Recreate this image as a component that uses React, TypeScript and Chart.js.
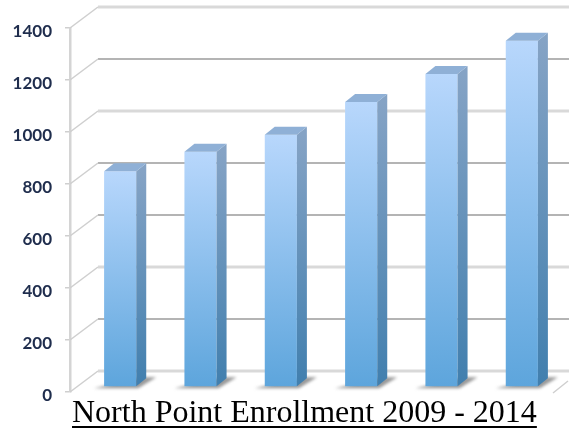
import React, { useEffect, useRef } from "react";
import { Chart, registerables } from "chart.js";

Chart.register(...registerables);

const years = ["2009", "2010", "2011", "2012", "2013", "2014"];
const enrollment = [830, 905, 970, 1096, 1204, 1332];
const titleText = "North Point Enrollment 2009 - 2014";
const lightGridValues = [1400, 1000, 400, 0];

const SHIFT_X = 10, SHIFT_Y = -5, SIDE_X = 10, SIDE_Y = -8;
const WALL_X = 28, WALL_Y = -21;
const BLUR = "blur(0.7px)";

const depthPlugin = {
  id: "depth",
  afterLayout(chart: any) {
    if (chart.titleBlock) chart.titleBlock.left = chart.chartArea.left + 2;
  },
  beforeDatasetsDraw(chart: any) {
    const { ctx, scales, width } = chart;
    const y = scales.y;
    const left = chart.chartArea.left;
    ctx.save();
    ctx.filter = BLUR;
    y.ticks.forEach((t: any) => {
      const py = y.getPixelForValue(t.value);
      const light = lightGridValues.includes(t.value);
      ctx.strokeStyle = light ? "#d9d9d9" : "#b4b4b4";
      ctx.lineWidth = light ? 3 : 2;
      ctx.beginPath();
      ctx.moveTo(left + WALL_X, py + WALL_Y);
      ctx.lineTo(width, py + WALL_Y);
      ctx.stroke();
      ctx.strokeStyle = "#cfcfcf";
      ctx.lineWidth = 1.5;
      ctx.beginPath();
      ctx.moveTo(left, py);
      ctx.lineTo(left + WALL_X, py + WALL_Y);
      ctx.stroke();
    });
    const p0 = y.getPixelForValue(0);
    ctx.strokeStyle = "#cfcfcf";
    ctx.lineWidth = 1.5;
    ctx.beginPath();
    ctx.moveTo(chart.chartArea.right + 1, p0 + 1);
    ctx.lineTo(chart.chartArea.right + 16, p0 - 11);
    ctx.stroke();
    // floor shadows
    const bars = chart.getDatasetMeta(0).data;
    ctx.filter = "blur(1.6px)";
    ctx.fillStyle = "rgba(110,110,110,0.7)";
    bars.forEach((b: any) => {
      const { x, base, width: w } = b.getProps(["x", "base", "width"], true);
      const l = x - w / 2 + SHIFT_X, r = x + w / 2 + SHIFT_X, bb = base + SHIFT_Y;
      ctx.beginPath();
      ctx.moveTo(l - 10, bb + 2);
      ctx.lineTo(r + 2, bb + 2);
      ctx.lineTo(r + 20, bb - 9);
      ctx.lineTo(r + 6, bb - 9);
      ctx.closePath();
      ctx.fill();
    });
    ctx.restore();
    ctx.save();
    ctx.filter = BLUR;
    ctx.translate(SHIFT_X, SHIFT_Y);
  },
  afterDatasetsDraw(chart: any) {
    const { ctx } = chart;
    const bars = chart.getDatasetMeta(0).data;
    bars.forEach((b: any) => {
      const { x, y, base, width: w } = b.getProps(["x", "y", "base", "width"], true);
      const l = x - w / 2, r = x + w / 2;
      const side = ctx.createLinearGradient(0, y, 0, base);
      side.addColorStop(0, "#85a3c5");
      side.addColorStop(1, "#417fae");
      ctx.fillStyle = side;
      ctx.beginPath();
      ctx.moveTo(r, y);
      ctx.lineTo(r + SIDE_X, y + SIDE_Y);
      ctx.lineTo(r + SIDE_X, base + SIDE_Y);
      ctx.lineTo(r, base);
      ctx.closePath();
      ctx.fill();
      ctx.fillStyle = "#8fb0d6";
      ctx.beginPath();
      ctx.moveTo(l, y);
      ctx.lineTo(l + SIDE_X, y + SIDE_Y);
      ctx.lineTo(r + SIDE_X, y + SIDE_Y);
      ctx.lineTo(r, y);
      ctx.closePath();
      ctx.fill();
    });
    ctx.restore();
  },
  afterDraw(chart: any) {
    const { ctx } = chart;
    const t = chart.titleBlock;
    if (!t) return;
    ctx.save();
    ctx.font = "32px 'Liberation Serif'";
    const w = ctx.measureText(titleText).width;
    ctx.fillStyle = "#000000";
    ctx.fillRect(t.left, 426, w, 2);
    ctx.restore();
  },
};

export default function App() {
  const ref = useRef<HTMLCanvasElement>(null);
  useEffect(() => {
    if (!ref.current) return;
    const chart = new Chart(ref.current, {
      type: "bar",
      data: {
        labels: years,
        datasets: [
          {
            data: enrollment,
            clip: false,
            barPercentage: 0.4,
            categoryPercentage: 1,
            backgroundColor: (c: any) => {
              const sc = c.chart.scales.y;
              const top = sc && c.raw !== undefined ? sc.getPixelForValue(c.raw) : NaN;
              const bottom = sc ? sc.getPixelForValue(0) : NaN;
              if (!Number.isFinite(top) || !Number.isFinite(bottom)) return "#8fbfeb";
              const g = c.chart.ctx.createLinearGradient(0, top, 0, bottom);
              g.addColorStop(0, "#b8d7fc");
              g.addColorStop(1, "#5da5dc");
              return g;
            },
          } as any,
        ],
      },
      options: {
        responsive: false,
        animation: false,
        devicePixelRatio: 1,
        layout: { padding: { top: 28, right: 17, left: 0, bottom: 0 } },
        plugins: {
          legend: { display: false },
          tooltip: { enabled: false },
          title: {
            display: true,
            text: titleText,
            position: "bottom",
            align: "start",
            fullSize: false,
            color: "#000000",
            font: { family: "'Liberation Serif'", size: 32, weight: "normal", lineHeight: 1 },
            padding: { top: 6, bottom: -2 },
          },
        },
        scales: {
          x: { display: false },
          y: {
            min: 0,
            max: 1400,
            ticks: {
              stepSize: 200,
              color: "#1f2d4d",
              font: { family: "Lato", size: 17, weight: "bold" },
              padding: 13,
              callback: (v: any) => String(v),
            },
            grid: { drawOnChartArea: false, tickLength: 5, color: "#cfcfcf", lineWidth: 1.5 },
            border: { display: true, color: "#d4d4d4", width: 2.5 },
            afterFit: (s: any) => {
              s.width = 70;
            },
            afterUpdate: (s: any) => {
              if (s.__wrapped) return;
              s.__wrapped = true;
              const orig = s.drawLabels.bind(s);
              s.drawLabels = (area: any) => {
                const ctx = s.ctx;
                ctx.save();
                ctx.filter = BLUR;
                ctx.translate(0, 4);
                orig(area);
                ctx.restore();
              };
            },
          } as any,
        },
      },
      plugins: [depthPlugin],
    } as any);
    return () => chart.destroy();
  }, []);
  return (
    <div style={{ position: "fixed", left: 0, top: 0, width: 569, height: 428, overflow: "hidden", background: "#fff" }}>
      <canvas ref={ref} width={569} height={428} style={{ display: "block" }} />
    </div>
  );
}
